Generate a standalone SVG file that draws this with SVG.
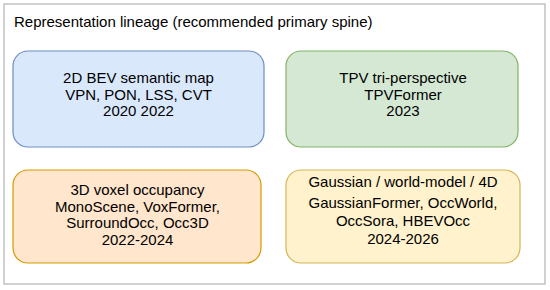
<svg xmlns="http://www.w3.org/2000/svg" width="550" height="290" viewBox="0 0 550 290">
<style>
text{font-family:"Liberation Sans",Arial,sans-serif;font-size:15px;fill:#000}
.c{text-anchor:middle}
.box{stroke-width:1.2}
</style>
<rect x="0" y="0" width="550" height="290" fill="#ffffff"/>
<g id="frame">
<rect x="4" y="4" width="541" height="280" fill="#ffffff" stroke="#b3b3b3" stroke-width="1.2"/>
<text x="14" y="27">Representation lineage (recommended primary spine)</text>
</g>
<g id="connectors"></g>
<g id="bev">
<rect class="box" x="13" y="51" width="251" height="96" rx="15" fill="#dae8fc" stroke="#6c8ebf"/>
<text class="c" x="138.5" y="83">2D BEV semantic map</text>
<text class="c" x="138.5" y="100">VPN, PON, LSS, CVT</text>
<text class="c" x="138.5" y="116">2020 2022</text>
</g>
<g id="tpv">
<rect class="box" x="286" y="51" width="232" height="96" rx="15" fill="#d5e8d4" stroke="#82b366"/>
<text class="c" x="403" y="83">TPV tri-perspective</text>
<text class="c" x="403" y="100">TPVFormer</text>
<text class="c" x="403" y="116">2023</text>
</g>
<g id="voxel">
<rect class="box" x="13" y="170" width="248" height="93" rx="15" fill="#ffe6cc" stroke="#d79b00"/>
<text class="c" x="137.5" y="195">3D voxel occupancy</text>
<text class="c" x="137.5" y="212">MonoScene, VoxFormer,</text>
<text class="c" x="137.5" y="228">SurroundOcc, Occ3D</text>
<text class="c" x="137.5" y="245">2022-2024</text>
</g>
<g id="gaussian">
<rect class="box" x="286" y="170" width="234" height="93" rx="15" fill="#fff2cc" stroke="#d6b656"/>
<text class="c" x="403" y="187">Gaussian / world-model / 4D</text>
<text class="c" x="403" y="208">GaussianFormer, OccWorld,</text>
<text class="c" x="403" y="226">OccSora, HBEVOcc</text>
<text class="c" x="403" y="244">2024-2026</text>
</g>
</svg>
